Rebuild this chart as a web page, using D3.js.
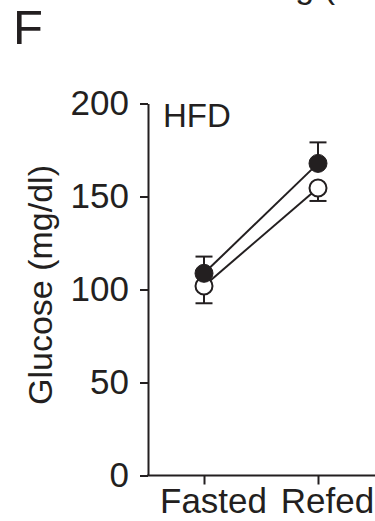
<!DOCTYPE html>
<html>
<head>
<meta charset="utf-8">
<script src="https://cdn.jsdelivr.net/npm/d3@7"></script>
<style>
  body { margin: 0; background: #fff; }
  svg { display: block; font-family: "Liberation Sans", Arial, sans-serif; }
</style>
</head>
<body>
<svg id="chart"></svg>
<script>
// chart values
var categories = ["Fasted", "Refed"];
var filledMean = [108.7, 167.8];
var filledErr = [9, 11.3];
var openMean = [101.9, 154.6];
var openErr = [9.3, 7];
var yTicks = [0, 50, 100, 150, 200];

var WIDTH = 375,
    HEIGHT = 521;
var INK = "#231f20";

var svg = d3.select("#chart")
    .attr("width", WIDTH)
    .attr("height", HEIGHT);

var y = d3.scaleLinear()
    .domain([0, 200])
    .range([475.5, 103.5]);

var x = d3.scalePoint()
    .domain(categories)
    .range([204, 318]);

// panel letter
svg.append("text")
    .attr("x", 13)
    .attr("y", 44)
    .attr("font-size", 49)
    .attr("fill", INK)
    .text("F");

// cut-off text from neighbouring panel (only its bottom shows)
svg.append("text")
    .attr("x", 335)
    .attr("y", -2)
    .attr("text-anchor", "end")
    .attr("font-size", 34)
    .attr("fill", INK)
    .text("g (");

// y axis
var yAxis = svg.append("g")
    .attr("transform", "translate(148,0)")
    .call(d3.axisLeft(y).tickValues(yTicks).tickSize(8).tickPadding(11).tickSizeOuter(0));
yAxis.select(".domain").attr("stroke", INK).attr("stroke-width", 2);
yAxis.selectAll(".tick line").attr("stroke", INK).attr("stroke-width", 2);
yAxis.selectAll(".tick text")
    .attr("font-size", 35)
    .attr("font-family", "'Liberation Sans', Arial, sans-serif")
    .attr("fill", INK);

// x axis
var xAxis = svg.append("g")
    .attr("transform", "translate(0," + y(0) + ")")
    .call(d3.axisBottom(x).tickSize(9).tickPadding(4));
xAxis.select(".domain").remove();
xAxis.selectAll(".tick line").attr("stroke", INK).attr("stroke-width", 2);
xAxis.selectAll(".tick text")
    .attr("font-size", 35)
    .attr("font-family", "'Liberation Sans', Arial, sans-serif")
    .attr("fill", INK)
    .attr("dx", 9)
    .attr("dy", "0.71em");
svg.append("line")
    .attr("x1", 147)
    .attr("x2", WIDTH + 5)
    .attr("y1", y(0))
    .attr("y2", y(0))
    .attr("stroke", INK)
    .attr("stroke-width", 2);

// y label
svg.append("text")
    .attr("transform", "translate(52,285) rotate(-90)")
    .attr("text-anchor", "middle")
    .attr("font-size", 34)
    .attr("fill", INK)
    .text("Glucose (mg/dl)");

// HFD label
svg.append("text")
    .attr("x", 163)
    .attr("y", 127)
    .attr("font-size", 33)
    .attr("fill", INK)
    .text("HFD");

var line = d3.line()
    .x(function(d, i) { return x(categories[i]); })
    .y(function(d) { return y(d); });

var plot = svg.append("g");

// connecting lines
plot.append("path")
    .datum(openMean)
    .attr("d", line)
    .attr("fill", "none")
    .attr("stroke", INK)
    .attr("stroke-width", 2);
plot.append("path")
    .datum(filledMean)
    .attr("d", line)
    .attr("fill", "none")
    .attr("stroke", INK)
    .attr("stroke-width", 2);

// error bars: open goes down, filled goes up
function errorBars(means, errs, dir) {
  var g = plot.append("g");
  means.forEach(function(m, i) {
    var cx = x(categories[i]);
    var end = y(m + dir * errs[i]);
    g.append("line")
        .attr("x1", cx).attr("x2", cx)
        .attr("y1", y(m)).attr("y2", end)
        .attr("stroke", INK).attr("stroke-width", 2);
    g.append("line")
        .attr("x1", cx - 8.5).attr("x2", cx + 8.5)
        .attr("y1", end).attr("y2", end)
        .attr("stroke", INK).attr("stroke-width", 2);
  });
}
errorBars(openMean, openErr, -1);
errorBars(filledMean, filledErr, 1);

plot.selectAll("circle.open")
    .data(openMean)
    .enter().append("circle")
    .attr("class", "open")
    .attr("cx", function(d, i) { return x(categories[i]); })
    .attr("cy", function(d) { return y(d); })
    .attr("r", 8.5)
    .attr("fill", "#fff")
    .attr("stroke", INK)
    .attr("stroke-width", 2);

plot.selectAll("circle.filled")
    .data(filledMean)
    .enter().append("circle")
    .attr("class", "filled")
    .attr("cx", function(d, i) { return x(categories[i]); })
    .attr("cy", function(d) { return y(d); })
    .attr("r", 9)
    .attr("fill", INK)
    .attr("stroke", INK)
    .attr("stroke-width", 1);
</script>
</body>
</html>
